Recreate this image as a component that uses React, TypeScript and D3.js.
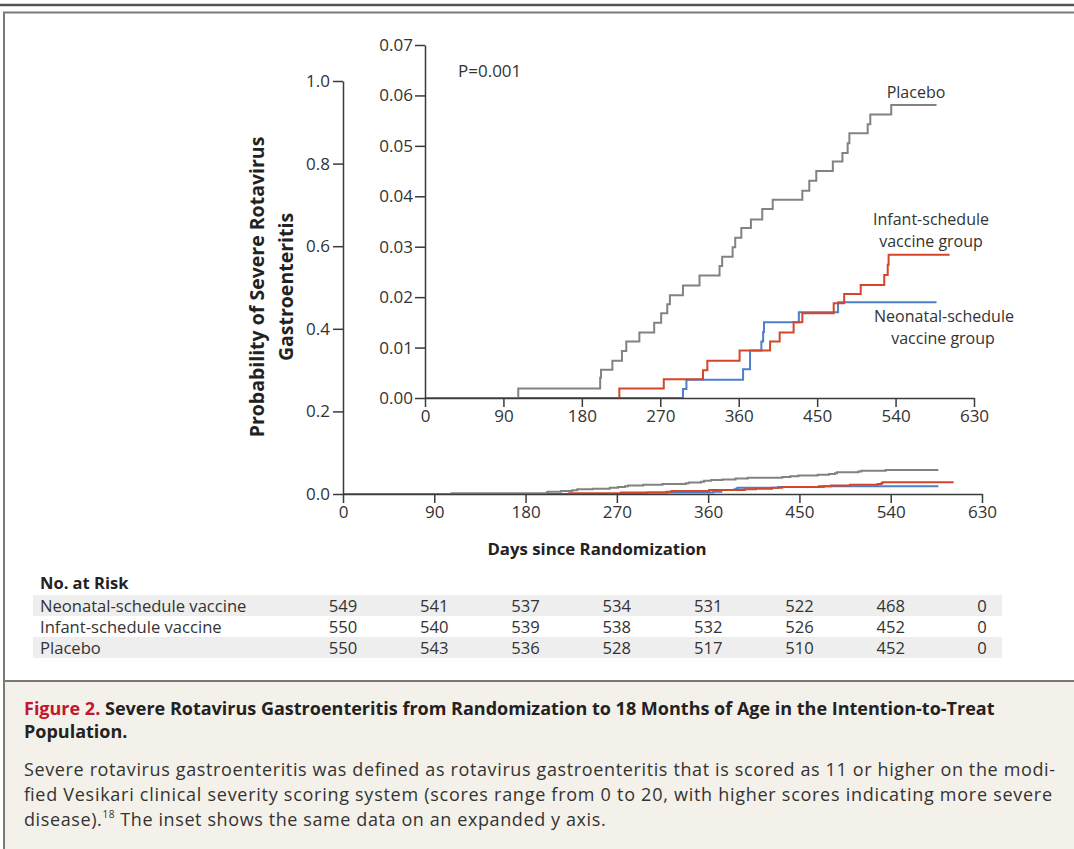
import React, { useRef, useEffect } from 'react';
import * as d3 from 'd3';

// x ticks shared by inset, main chart and risk table
const dayTicks = [0, 90, 180, 270, 360, 450, 540, 630];
const insetTicks = [0, 0.01, 0.02, 0.03, 0.04, 0.05, 0.06, 0.07];
const mainTicks = [0, 0.2, 0.4, 0.6, 0.8, 1.0];

// Kaplan-Meier steps: [day, cumulative probability]
const placebo: [number, number][] = [
  [0, 0], [107, 0.0019], [201, 0.004], [202, 0.0056], [215, 0.0074], [226, 0.0093],
  [231, 0.0112], [246, 0.013], [263, 0.0149], [271, 0.0168], [278, 0.0186], [281, 0.0204],
  [296, 0.0223], [315, 0.0243], [338, 0.0262], [341, 0.028], [353, 0.0299], [356, 0.0318],
  [363, 0.0337], [374, 0.0354], [387, 0.0375], [399, 0.0393], [433, 0.0411], [441, 0.0431],
  [449, 0.045], [468, 0.0469], [479, 0.0486], [485, 0.0505], [487, 0.0525], [508, 0.0543],
  [511, 0.0562], [535, 0.0581], [587, 0.0581]
];
const infant: [number, number][] = [
  [0, 0], [223, 0.0019], [274, 0.0037], [319, 0.0055], [324, 0.0074], [361, 0.0094],
  [396, 0.0112], [407, 0.013], [423, 0.015], [433, 0.0168], [469, 0.0188], [481, 0.0206],
  [500, 0.0224], [527, 0.0244], [531, 0.0264], [532, 0.0284], [602, 0.0284]
];
const neonatal: [number, number][] = [
  [0, 0], [296, 0.0018], [300, 0.0036], [365, 0.0057], [373, 0.0094], [386, 0.0112],
  [388, 0.0131], [389, 0.015], [429, 0.017], [474, 0.019], [587, 0.019]
];

const riskGroups = ['Neonatal-schedule vaccine', 'Infant-schedule vaccine', 'Placebo'];
const riskNeonatal = [549, 541, 537, 534, 531, 522, 468, 0];
const riskInfant = [550, 540, 539, 538, 532, 526, 452, 0];
const riskPlacebo = [550, 543, 536, 528, 517, 510, 452, 0];

const FONT = "'Open Sans', 'Noto Sans', sans-serif";
const W = 1074, H = 849;

export default function App() {
  const svg_ref = useRef<SVGSVGElement>(null);
  useEffect(() => { draw(svg_ref.current); }, []);
  return (
    <div style={{ position: 'absolute', left: 0, top: 0 }}>
      <svg ref={svg_ref} width={W} height={H}></svg>
    </div>
  );
}

function draw(node: SVGSVGElement | null) {
  if (!node) return;
  const svg = d3.select(node);
  svg.selectAll('*').remove();
  svg.style('font-family', FONT).style('background', '#fff');

  const series = [
    { name: 'neonatal', vals: neonatal, color: '#4c7fc9' },
    { name: 'infant', vals: infant, color: '#d4452a' },
    { name: 'placebo', vals: placebo, color: '#828282' }
  ];

  // frame
  svg.append('line').attr('x1', 0).attr('x2', W).attr('y1', 5).attr('y2', 5)
    .attr('stroke', '#555').attr('stroke-width', 2.5);
  svg.append('rect').attr('x', 4).attr('y', 681).attr('width', W).attr('height', H)
    .attr('fill', '#f4f1ea');
  svg.append('line').attr('x1', 4).attr('x2', W).attr('y1', 681).attr('y2', 681)
    .attr('stroke', '#777').attr('stroke-width', 2);
  svg.append('path').attr('d', `M4,${H} L4,12.5 L${W},12.5`)
    .attr('fill', 'none').attr('stroke', '#7a7a7a').attr('stroke-width', 2);

  // scales
  const xMain = d3.scaleLinear().domain([0, 630]).range([343, 982]);
  const yMain = d3.scaleLinear().domain([0, 1]).range([494, 81]);
  const xIn = d3.scaleLinear().domain([0, 630]).range([425, 974]);
  const yIn = d3.scaleLinear().domain([0, 0.07]).range([398, 45]);

  const styleAxis = (g: any, size = 17) => {
    g.attr('font-size', size).attr('font-family', FONT);
    g.select('.domain').attr('stroke', '#3a3a3a').attr('stroke-width', 1.5);
    g.selectAll('.tick line').attr('stroke', '#3a3a3a').attr('stroke-width', 1.5);
    g.selectAll('.tick text').attr('fill', '#333');
  };

  // main chart
  const lineMain = d3.line<[number, number]>()
    .x(d => xMain(d[0])).y(d => yMain(d[1])).curve(d3.curveStepAfter);
  svg.append('g').selectAll('path').data(series).join('path')
    .attr('d', d => lineMain(d.vals))
    .attr('fill', 'none').attr('stroke', d => d.color).attr('stroke-width', 2);

  svg.append('g').attr('transform', 'translate(0,494)')
    .call(d3.axisBottom(xMain).tickValues(dayTicks).tickFormat(d3.format('d')).tickSize(9).tickSizeOuter(0).tickPadding(3))
    .call(g => styleAxis(g));
  svg.append('g').attr('transform', 'translate(343,0)')
    .call(d3.axisLeft(yMain).tickValues(mainTicks).tickFormat(d3.format('.1f')).tickSize(10).tickSizeOuter(0).tickPadding(3))
    .call(g => styleAxis(g));

  // inset
  const lineIn = d3.line<[number, number]>()
    .x(d => xIn(d[0])).y(d => yIn(d[1])).curve(d3.curveStepAfter);
  svg.append('g').selectAll('path').data(series).join('path')
    .attr('d', d => lineIn(d.vals))
    .attr('fill', 'none').attr('stroke', d => d.color).attr('stroke-width', 2);

  svg.append('g').attr('transform', 'translate(0,398)')
    .call(d3.axisBottom(xIn).tickValues(dayTicks).tickFormat(d3.format('d')).tickSize(9).tickSizeOuter(0).tickPadding(3))
    .call(g => styleAxis(g));
  svg.append('g').attr('transform', 'translate(425,0)')
    .call(d3.axisLeft(yIn).tickValues(insetTicks).tickFormat(d3.format('.2f')).tickSize(10).tickSizeOuter(0).tickPadding(2))
    .call(g => styleAxis(g));

  const text = (x: number, y: number, s: string, opts: any = {}) => {
    const t = svg.append('text').attr('x', x).attr('y', y).text(s)
      .attr('dominant-baseline', 'central')
      .attr('text-anchor', opts.anchor || 'start')
      .attr('fill', opts.fill || '#333')
      .style('font-size', (opts.size || 15) + 'px')
      .style('font-weight', opts.weight || 'normal');
    if (opts.len) t.attr('textLength', opts.len).attr('lengthAdjust', 'spacing');
    return t;
  };

  text(458, 70, 'P=0.001', { size: 17 });
  text(916, 92, 'Placebo', { anchor: 'middle', size: 16 });
  text(931, 219, 'Infant-schedule', { anchor: 'middle', size: 16 });
  text(931, 241, 'vaccine group', { anchor: 'middle', size: 16 });
  text(944, 316, 'Neonatal-schedule', { anchor: 'middle', size: 16 });
  text(943, 338, 'vaccine group', { anchor: 'middle', size: 16 });

  // axis titles
  const yl = svg.append('g').attr('transform', 'translate(256,287) rotate(-90)');
  yl.append('text').attr('text-anchor', 'middle').attr('dominant-baseline', 'central')
    .attr('fill', '#222').style('font-size', '19.5px').style('font-weight', 'bold')
    .text('Probability of Severe Rotavirus');
  yl.append('text').attr('y', 29).attr('text-anchor', 'middle').attr('dominant-baseline', 'central')
    .attr('fill', '#222').style('font-size', '19.5px').style('font-weight', 'bold')
    .text('Gastroenteritis');
  text(597, 548, 'Days since Randomization', { anchor: 'middle', size: 16.8, weight: 'bold', fill: '#222' });

  // risk table
  text(40, 582, 'No. at Risk', { size: 16.5, weight: 'bold', fill: '#222' });
  const rows = [riskNeonatal, riskInfant, riskPlacebo];
  const rowY = d3.scaleBand<number>().domain([0, 1, 2]).range([595, 658]);
  svg.append('g').selectAll('rect').data([0, 2]).join('rect')
    .attr('x', 33).attr('width', 969).attr('y', d => rowY(d)!).attr('height', rowY.bandwidth())
    .attr('fill', '#eeeeee');
  rows.forEach((vals, i) => {
    const cy = rowY(i)! + rowY.bandwidth() / 2;
    text(40, cy, riskGroups[i], { size: 16.6 });
    svg.append('g').selectAll('text').data(vals).join('text')
      .attr('x', (d, j) => xMain(dayTicks[j])).attr('y', cy)
      .attr('text-anchor', 'middle').attr('dominant-baseline', 'central')
      .attr('fill', '#333').style('font-size', '16.6px').text(d => d);
  });

  // caption
  const t1 = svg.append('text').attr('x', 24).attr('y', 708).attr('dominant-baseline', 'central')
    .style('font-size', '18px').style('font-weight', 'bold').attr('fill', '#222');
  t1.append('tspan').attr('fill', '#c3172e').text('Figure 2. ');
  t1.append('tspan').text('Severe Rotavirus Gastroenteritis from Randomization to 18 Months of Age in the Intention-to-Treat');
  text(24, 731, 'Population.', { size: 18, weight: 'bold', fill: '#222' });
  text(24, 769, 'Severe rotavirus gastroenteritis was defined as rotavirus gastroenteritis that is scored as 11 or higher on the modi-', { size: 18, len: 1031 });
  text(24, 794, 'fied Vesikari clinical severity scoring system (scores range from 0 to 20, with higher scores indicating more severe', { size: 18, len: 1028 });
  const t3 = svg.append('text').attr('x', 24).attr('y', 819).attr('dominant-baseline', 'central')
    .style('font-size', '18px').style('letter-spacing', '0.6px').attr('fill', '#333');
  t3.append('tspan').text('disease).');
  t3.append('tspan').attr('dy', -5).style('font-size', '10px').text('18');
  t3.append('tspan').attr('dy', 5).text(' The inset shows the same data on an expanded y axis.');
}
